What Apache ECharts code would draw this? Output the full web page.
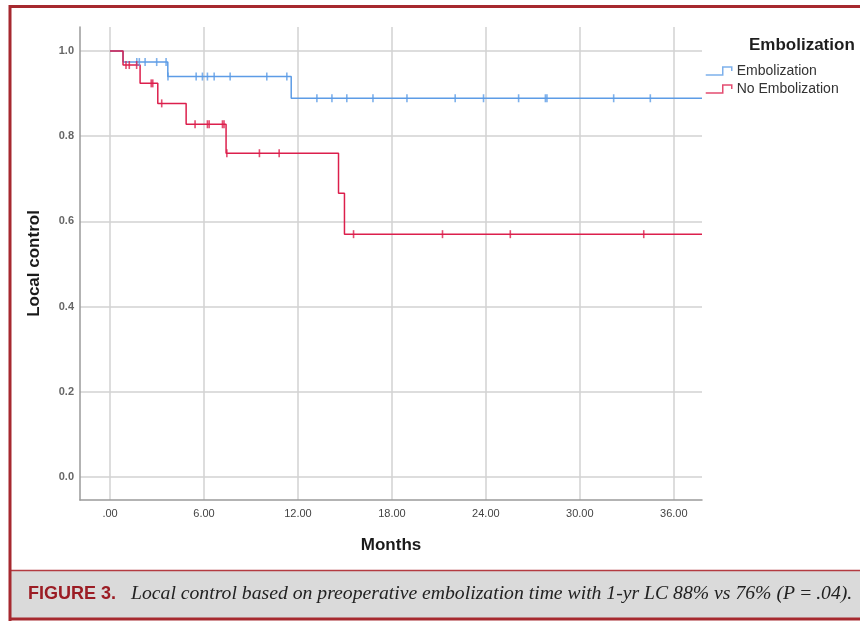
<!DOCTYPE html>
<html>
<head>
<meta charset="utf-8">
<script src="https://cdn.jsdelivr.net/npm/echarts@6/dist/echarts.min.js"></script>
<style>
html,body{margin:0;padding:0;background:#fff;}
#chart{width:860px;height:621px;}
</style>
</head>
<body>
<div id="chart"></div>
<script>
// ---- data ----
const xTickValues = [0, 6, 12, 18, 24, 30, 36];
const xTickLabels = ['.00', '6.00', '12.00', '18.00', '24.00', '30.00', '36.00'];
const yTickValues = [0, 0.2, 0.4, 0.6, 0.8, 1.0];
const yTickLabels = ['0.0', '0.2', '0.4', '0.6', '0.8', '1.0'];

const embTimes = [0, 0.83, 3.69, 11.57, 37.8];
const embSurv = [1.0, 0.974, 0.94, 0.889, 0.889];
const embCensorTimes = [1.71, 1.87, 2.24, 2.98, 3.58, 3.70, 5.50, 5.90, 6.22, 6.65, 7.67, 10.01, 11.29,
  13.21, 14.17, 15.12, 16.79, 18.96, 22.04, 23.85, 26.09, 27.80, 27.90, 32.16, 34.50];
const embCensorSurv = [0.974, 0.974, 0.974, 0.974, 0.974, 0.94, 0.94, 0.94, 0.94, 0.94, 0.94, 0.94, 0.94,
  0.889, 0.889, 0.889, 0.889, 0.889, 0.889, 0.889, 0.889, 0.889, 0.889, 0.889, 0.889];

const noEmbTimes = [0, 0.83, 1.92, 3.05, 4.86, 7.41, 14.59, 14.97, 37.8];
const noEmbSurv = [1.0, 0.967, 0.924, 0.877, 0.828, 0.760, 0.666, 0.570, 0.570];
const noEmbCensorTimes = [1.02, 1.23, 1.70, 2.63, 2.73, 3.30, 5.43, 6.22, 6.33, 7.18, 7.28, 7.46, 9.54, 10.80,
  15.55, 21.23, 25.56, 34.08];
const noEmbCensorSurv = [0.967, 0.967, 0.967, 0.924, 0.924, 0.877, 0.828, 0.828, 0.828, 0.828, 0.828, 0.760, 0.760, 0.760,
  0.570, 0.570, 0.570, 0.570];

const seriesNames = ['Embolization', 'No Embolization'];
const legendTitle = 'Embolization';
const xAxisName = 'Months';
const yAxisName = 'Local control';
const captionLabel = 'FIGURE 3.';
const captionText = 'Local control based on preoperative embolization time with 1-yr LC 88% vs 76% (P\u2009=\u2009.04).';

// ---- styling ----
const BLUE = '#5d9ce6';
const RED = '#dc1f4c';
const FRAME = '#a6292f';

function zip(a, b) { return a.map((v, i) => [v, b[i]]); }
function lookup(values, labels, v) {
  const i = values.findIndex(t => Math.abs(t - v) < 1e-6);
  return i >= 0 ? labels[i] : '';
}

// fit caption text to the reference width
const cnv = document.createElement('canvas').getContext('2d');
cnv.font = 'italic 18px "Liberation Serif"';
const capW = cnv.measureText(captionText).width;
const capSize = Math.min(20, 18 * 722 / capW);

const chart = echarts.init(document.getElementById('chart'), null, {renderer: 'canvas'});
const legendIcon = 'path://M0,8 L17,8 L17,0 L26,0 L26,4';

const option = {
  backgroundColor: '#ffffff',
  animation: false,
  title: {
    text: legendTitle,
    left: 749, top: 37, padding: 0,
    textStyle: {fontFamily: 'Liberation Sans, Arial, sans-serif', fontSize: 17, fontWeight: 'bold', color: '#1e1e1e'}
  },
  legend: {
    orient: 'vertical',
    left: 705, top: 64, padding: 0,
    itemWidth: 26, itemHeight: 8, itemGap: 4,
    symbolKeepAspect: false,
    textStyle: {fontFamily: 'Liberation Sans, Arial, sans-serif', fontSize: 14, color: '#333', lineHeight: 14},
    data: [
      {name: seriesNames[0], icon: legendIcon, itemStyle: {color: 'rgba(0,0,0,0)', borderColor: BLUE, borderWidth: 1.5}},
      {name: seriesNames[1], icon: legendIcon, itemStyle: {color: 'rgba(0,0,0,0)', borderColor: RED, borderWidth: 1.5}}
    ]
  },
  grid: {left: 80, top: 27, width: 622, height: 473, containLabel: false},
  xAxis: {
    type: 'value',
    min: -1.917, max: 37.8,
    name: xAxisName, nameLocation: 'middle', nameGap: 37,
    nameTextStyle: {fontFamily: 'Liberation Sans, Arial, sans-serif', fontSize: 17, fontWeight: 'bold', color: '#1a1a1a'},
    axisLine: {show: true, onZero: false, lineStyle: {color: '#9a9a9a', width: 1.5}},
    axisTick: {show: false, customValues: xTickValues},
    axisLabel: {
      customValues: xTickValues, margin: 8,
      fontFamily: 'Liberation Sans, Arial, sans-serif', fontSize: 11, color: '#444',
      formatter: v => lookup(xTickValues, xTickLabels, v)
    },
    splitLine: {show: true, lineStyle: {color: '#d2d2d2', width: 1.5}}
  },
  yAxis: {
    type: 'value',
    min: -0.054, max: 1.0563,
    name: yAxisName, nameLocation: 'middle', nameGap: 37, nameRotate: 90,
    nameTextStyle: {fontFamily: 'Liberation Sans, Arial, sans-serif', fontSize: 17, fontWeight: 'bold', color: '#1a1a1a'},
    axisLine: {show: true, onZero: false, lineStyle: {color: '#9a9a9a', width: 1.5}},
    axisTick: {show: false, customValues: yTickValues},
    axisLabel: {
      customValues: yTickValues, margin: 6,
      fontFamily: 'Liberation Sans, Arial, sans-serif', fontSize: 11, fontWeight: 'bold', color: '#666',
      formatter: v => lookup(yTickValues, yTickLabels, v)
    },
    splitLine: {show: true, lineStyle: {color: '#d2d2d2', width: 1.5}}
  },
  series: [
    {
      name: seriesNames[0], type: 'scatter', symbol: 'rect', symbolSize: [1.6, 8],
      itemStyle: {color: BLUE}, data: zip(embCensorTimes, embCensorSurv), z: 3
    },
    {
      name: seriesNames[1], type: 'scatter', symbol: 'rect', symbolSize: [1.6, 8],
      itemStyle: {color: RED}, data: zip(noEmbCensorTimes, noEmbCensorSurv), z: 3
    },
    {
      name: seriesNames[0], type: 'line', step: 'end', showSymbol: false,
      lineStyle: {color: BLUE, width: 1.5}, itemStyle: {color: BLUE},
      data: zip(embTimes, embSurv), z: 2
    },
    {
      name: seriesNames[1], type: 'line', step: 'end', showSymbol: false,
      lineStyle: {color: RED, width: 1.5}, itemStyle: {color: RED},
      data: zip(noEmbTimes, noEmbSurv), z: 2
    }
  ],
  graphic: [
    // caption band
    {type: 'rect', shape: {x: 10, y: 571, width: 852, height: 47}, style: {fill: '#dadada'}, z: 0},
    {type: 'line', shape: {x1: 10, y1: 570.5, x2: 862, y2: 570.5}, style: {stroke: '#b33a40', lineWidth: 1.5}},
    // outer frame
    {type: 'line', shape: {x1: 10, y1: 5, x2: 10, y2: 621}, style: {stroke: FRAME, lineWidth: 3}},
    {type: 'line', shape: {x1: 9, y1: 6.5, x2: 862, y2: 6.5}, style: {stroke: FRAME, lineWidth: 3}},
    {type: 'line', shape: {x1: 9, y1: 619, x2: 862, y2: 619}, style: {stroke: FRAME, lineWidth: 3}},
    {
      type: 'text', x: 28, y: 594,
      style: {text: captionLabel, fill: '#9b1c24', font: 'bold 18px "Liberation Sans", Arial, sans-serif', verticalAlign: 'middle'}
    },
    {
      type: 'text', x: 131, y: 594,
      style: {text: captionText, fill: '#222', font: 'italic ' + capSize.toFixed(2) + 'px "Liberation Serif", serif', verticalAlign: 'middle'}
    }
  ]
};
chart.setOption(option);
</script>
</body>
</html>
